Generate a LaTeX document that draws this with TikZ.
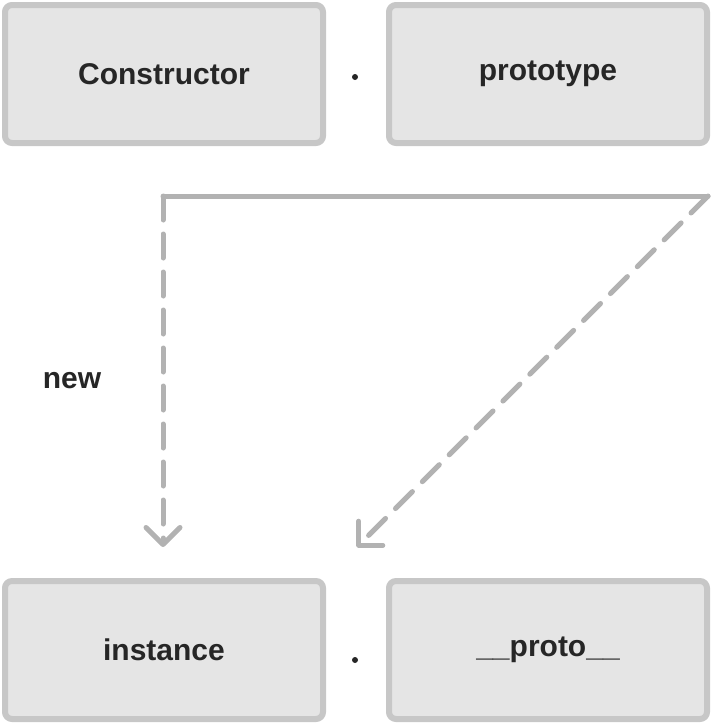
\documentclass[tikz,border=0pt]{standalone}
\usepackage{fontspec}
\setmainfont{Liberation Sans}
\usetikzlibrary{arrows.meta}
\begin{document}
\begin{tikzpicture}[x=1pt,y=-1pt,
 box/.style={draw=black!22,fill=black!10,line width=6pt,rounded corners=7pt,minimum width=318pt,minimum height=138pt,font=\bfseries\fontsize{30}{36}\selectfont,text=black!85},
 conn/.style={draw=black!30,line width=5pt,line cap=round,line join=round},
 tip/.style={-{Straight Barb[length=17pt,width=34pt,line cap=round,line join=round]}},
 dsh/.style={dash pattern=on 24pt off 14pt}]
\useasboundingbox (0,0) rectangle (712,724);
\node[box] (ctor) at (164,74) {Constructor};
\node[box] (proto) at (548,74) {prototype};
\node[box] (inst) at (164,650) {instance};
\node[box] (pp) at (548,650) {\_\_proto\_\_};
\fill[black!85] (355,77) circle (3pt);
\fill[black!85] (355,660) circle (3pt);
\node[font=\bfseries\fontsize{30}{36}\selectfont,text=black!85] (new) at (72,381) {new};
\coordinate (r) at (708,196);
\coordinate (c) at (163,196);
\coordinate (a1) at (163,547);
\coordinate (a2) at (357,547);
\draw[conn] (r) -- (c);
\draw[conn,dsh,tip] (c) -- (a1);
\draw[conn,dsh,tip] (r) -- (a2);
\end{tikzpicture}
\end{document}
